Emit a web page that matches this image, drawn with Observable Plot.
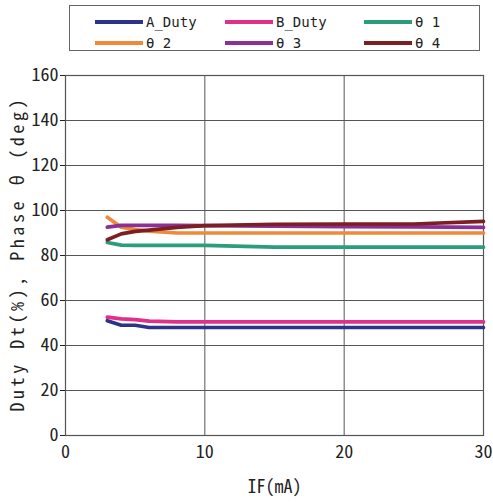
<!DOCTYPE html>
<html><head><meta charset="utf-8">
<script src="https://cdn.jsdelivr.net/npm/d3@7"></script>
<script src="https://cdn.jsdelivr.net/npm/@observablehq/plot@0.6"></script>
<style>
body{margin:0;background:#fff;}
#wrap{position:relative;width:493px;height:502px;}
#legend{position:absolute;left:69px;top:5px;width:411px;height:46px;border:1px solid #666;box-sizing:border-box;font-family:"DejaVu Sans Mono",monospace;}
.item{position:absolute;display:flex;align-items:center;font-size:14px;color:#222;line-height:16px;height:16px;}
.item svg{margin-right:3px;}
</style></head>
<body><div id="wrap"><div id="legend"></div></div>
<script>
const IF = [3,4,5,6,8,10,15,20,25,30];
const A_Duty = [51,49,49,48,48,48,48,48,48,48];
const B_Duty = [52.6,51.8,51.5,50.8,50.5,50.5,50.5,50.5,50.5,50.5];
const theta1 = [85.8,84.6,84.5,84.5,84.5,84.5,83.7,83.7,83.7,83.7];
const theta2 = [97,92.6,91.5,90.8,90,90,90,90,90,90];
const theta3 = [92.6,93.4,93.4,93.4,93.4,93.3,93,92.8,92.7,92.5];
const theta4 = [87,89.6,90.7,91.3,92.5,93.3,93.9,94,94,95.2];
const seriesNames = ["A_Duty","B_Duty","θ1","θ2","θ3","θ4"];
const seriesColors = ["#2b3489","#e0308a","#2a9e7c","#ee8a3a","#8c2f97","#7c1f22"];
const seriesValues = [A_Duty,B_Duty,theta1,theta2,theta3,theta4];
const yTicks = [0,20,40,60,80,100,120,140,160];
const xTicks = [0,10,20,30];
const legendLabels = ["A_Duty","B_Duty","θ 1","θ 2","θ 3","θ 4"];
const yLabel = "Duty Dt(%), Phase θ (deg)";
const xLabel = "IF(mA)";

const data = [];
seriesNames.forEach((s,i)=>IF.forEach((x,j)=>data.push({series:s,x,y:seriesValues[i][j]})));

const FONT = '"Noto Sans Mono CJK JP","Noto Sans CJK JP","DejaVu Sans Mono",monospace';
const chart = Plot.plot({
  width:493, height:445,
  marginTop:18, marginBottom:67, marginLeft:65, marginRight:10,
  style:{fontFamily:FONT,fontSize:"18px",color:"#222",background:"#fff"},
  x:{domain:[0,30]},
  y:{domain:[0,160]},
  color:{domain:seriesNames,range:seriesColors},
  marks:[
    Plot.gridY(yTicks,{stroke:"#555",strokeOpacity:1,strokeWidth:1}),
    Plot.gridX([10,20],{stroke:"#555",strokeOpacity:1,strokeWidth:1}),
    Plot.frame({stroke:"#555",strokeWidth:1.2}),
    Plot.axisY(yTicks,{tickSize:5,tickPadding:2,fontSize:18,label:null}),
    Plot.axisY({ticks:[],tickSize:0,label:yLabel,labelAnchor:"center",labelOffset:54,labelArrow:"none",fontSize:18}),
    Plot.axisX(xTicks,{tickSize:0,tickPadding:10,fontSize:18,label:null}),
    Plot.axisX({ticks:[],tickSize:0,label:xLabel,labelAnchor:"center",labelOffset:57,labelArrow:"none",fontSize:18}),
    Plot.line(data,{x:"x",y:"y",z:"series",stroke:"series",strokeWidth:3.7,strokeLinejoin:"round"})
  ]
});
d3.select(chart).selectAll("text").filter(function(){return this.textContent===yLabel;})
  .attr("textLength",312).attr("lengthAdjust","spacing");
chart.style.position="absolute"; chart.style.left="0px"; chart.style.top="57px";
document.getElementById("wrap").appendChild(chart);

const leg = document.getElementById("legend");
const cols=[25,155,294], rows=[8,29];
legendLabels.forEach((lab,i)=>{
  const d=document.createElement("div"); d.className="item";
  d.style.left=cols[i%3]+"px"; d.style.top=rows[Math.floor(i/3)]+"px";
  d.innerHTML=`<svg width="48" height="6"><line x1="0" x2="48" y1="3" y2="3" stroke="${seriesColors[i]}" stroke-width="4"/></svg><span>${lab}</span>`;
  leg.appendChild(d);
});
</script></body></html>
